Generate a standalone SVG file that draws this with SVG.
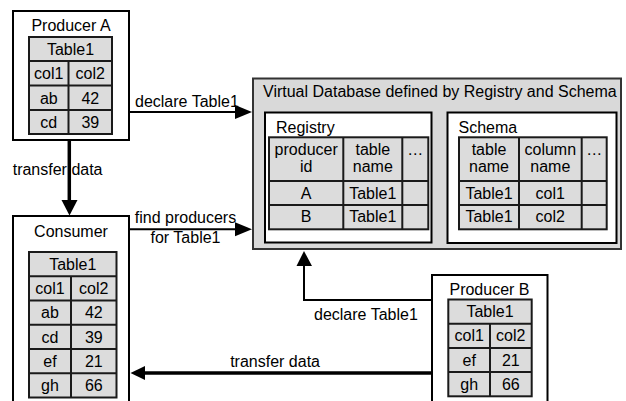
<svg xmlns="http://www.w3.org/2000/svg" width="626" height="401" viewBox="0 0 626 401">
<defs>
<style>
text{font-family:"Liberation Sans",Arial,sans-serif;font-size:16px;fill:#000}
.c{text-anchor:middle}
.e{text-anchor:end}
.box{fill:#fff;stroke:#000;stroke-width:2}
.cell{fill:#dcdcdc;stroke:#1a1a1a;stroke-width:2}
.ln{fill:none;stroke:#1a1a1a;stroke-width:2}
.vd{fill:#d9d9d9;stroke:#333;stroke-width:2}
.ar{fill:none;stroke:#000;stroke-width:2}
.thick{fill:none;stroke:#000;stroke-width:3.5}
.head{fill:#000}
</style>
</defs>
<rect width="626" height="401" fill="#fff"/>

<g id="producerA">
<rect class="box" x="13" y="11" width="116" height="129"/>
<text class="c" x="71" y="31">Producer A</text>
<rect class="cell" x="29" y="37" width="83" height="97"/>
<path class="ln" d="M29 61H112M29 85.5H112M29 110H112M68.5 61V134"/>
<text class="c" x="70.5" y="55">Table1</text>
<text class="c" x="48.8" y="79">col1</text><text class="c" x="90.3" y="79">col2</text>
<text class="c" x="48.8" y="103.5">ab</text><text class="c" x="90.3" y="103.5">42</text>
<text class="c" x="48.8" y="128">cd</text><text class="c" x="90.3" y="128">39</text>
</g>

<g id="consumer">
<rect class="box" x="13" y="216" width="116" height="200"/>
<text class="c" x="71" y="237">Consumer</text>
<rect class="cell" x="29" y="252" width="87.5" height="145.5"/>
<path class="ln" d="M29 276.25H116.5M29 300.5H116.5M29 324.75H116.5M29 349H116.5M29 373.25H116.5M71 276.25V397.5"/>
<text class="c" x="72.8" y="269.5">Table1</text>
<text class="c" x="50" y="294">col1</text><text class="c" x="93.8" y="294">col2</text>
<text class="c" x="50" y="318.3">ab</text><text class="c" x="93.8" y="318.3">42</text>
<text class="c" x="50" y="342.5">cd</text><text class="c" x="93.8" y="342.5">39</text>
<text class="c" x="50" y="366.8">ef</text><text class="c" x="93.8" y="366.8">21</text>
<text class="c" x="50" y="391">gh</text><text class="c" x="93.8" y="391">66</text>
</g>

<g id="producerB">
<rect class="box" x="432" y="275" width="115.5" height="200"/>
<text class="c" x="489.5" y="295">Producer B</text>
<rect class="cell" x="448.3" y="299.5" width="83.4" height="96.8"/>
<path class="ln" d="M448.3 323.7H531.7M448.3 347.9H531.7M448.3 372.1H531.7M490 323.7V396.3"/>
<text class="c" x="490" y="317">Table1</text>
<text class="c" x="469.2" y="341.3">col1</text><text class="c" x="510.8" y="341.3">col2</text>
<text class="c" x="469.2" y="365.5">ef</text><text class="c" x="510.8" y="365.5">21</text>
<text class="c" x="469.2" y="389.7">gh</text><text class="c" x="510.8" y="389.7">66</text>
</g>

<g id="virtualDatabase">
<rect class="vd" x="253" y="78.5" width="368" height="170.5"/>
<text x="263" y="97">Virtual Database defined by Registry and Schema</text>
</g>

<g id="registry">
<rect class="box" x="265" y="112.5" width="166.5" height="130"/>
<text x="276" y="133">Registry</text>
<rect class="cell" x="269" y="137.3" width="159.3" height="92"/>
<path class="ln" d="M269 181H428.3M269 205H428.3M343.3 137.3V229.3M402.3 137.3V229.3"/>
<text class="c" x="306.2" y="155">producer</text><text class="c" x="306.2" y="171.7">id</text>
<text class="c" x="372.8" y="155">table</text><text class="c" x="372.8" y="171.7">name</text>
<text class="c" x="415.3" y="155">…</text>
<text class="c" x="306.2" y="198.5">A</text><text class="c" x="372.8" y="198.5">Table1</text>
<text class="c" x="306.2" y="222">B</text><text class="c" x="372.8" y="222">Table1</text>
</g>

<g id="schema">
<rect class="box" x="447.5" y="112.5" width="169" height="130.5"/>
<text x="458.5" y="133">Schema</text>
<rect class="cell" x="459" y="137.3" width="147.7" height="92"/>
<path class="ln" d="M459 181H606.7M459 205H606.7M519 137.3V229.3M581.7 137.3V229.3"/>
<text class="c" x="489" y="155">table</text><text class="c" x="489" y="171.7">name</text>
<text class="c" x="550.3" y="155">column</text><text class="c" x="550.3" y="171.7">name</text>
<text class="c" x="594.2" y="155">…</text>
<text class="c" x="489" y="198.5">Table1</text><text class="c" x="550.3" y="198.5">col1</text>
<text class="c" x="489" y="222">Table1</text><text class="c" x="550.3" y="222">col2</text>
</g>

<g id="connectors">
<text x="135" y="107">declare Table1</text>
<line class="ar" x1="129" y1="112" x2="237" y2="112"/>
<polygon class="head" points="235,105 252,112 235,119"/>

<text x="12.7" y="175">transfer data</text>
<line class="thick" x1="69.3" y1="140" x2="69.3" y2="202"/>
<polygon class="head" points="61.5,200 77.5,200 69.5,215.5"/>

<text class="c" x="185.5" y="223.3">find producers</text>
<text class="c" x="185.5" y="242.7">for Table1</text>
<line class="ar" x1="129" y1="229.3" x2="237" y2="229.3"/>
<polygon class="head" points="235,222.3 252,229.3 235,236.3"/>

<text x="314" y="320">declare Table1</text>
<polyline class="ar" points="432,300 304,300 304,264"/>
<polygon class="head" points="296.5,266 312,266 304,251"/>

<text class="e" x="320" y="366.7">transfer data</text>
<line class="thick" x1="432" y1="373" x2="143" y2="373"/>
<polygon class="head" points="145,366 145,380 130.5,373"/>
</g>
</svg>
